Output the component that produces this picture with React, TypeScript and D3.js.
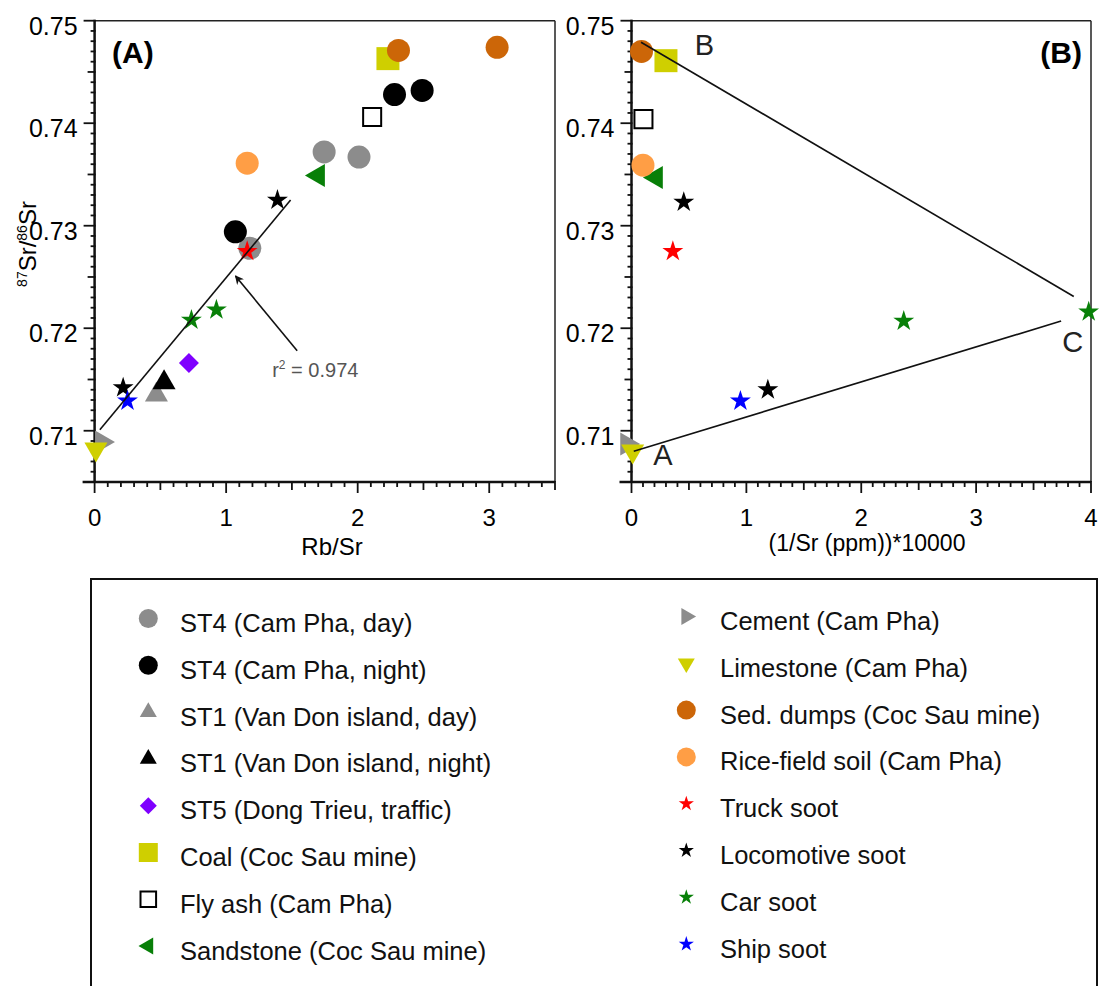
import * as d3 from 'd3';

// ---- data ----
const seriesNames = [
  'ST4 (Cam Pha, day)', 'ST4 (Cam Pha, night)', 'ST1 (Van Don island, day)', 'ST1 (Van Don island, night)',
  'ST5 (Dong Trieu, traffic)', 'Coal (Coc Sau mine)', 'Fly ash (Cam Pha)', 'Sandstone (Coc Sau mine)',
  'Cement (Cam Pha)', 'Limestone (Cam Pha)', 'Sed. dumps (Coc Sau mine)', 'Rice-field soil (Cam Pha)',
  'Truck soot', 'Locomotive soot', 'Car soot', 'Ship soot',
];

// panel A: [Rb/Sr, 87Sr/86Sr]
const st4DayA = [[1.745, 0.7372], [2.01, 0.7367], [1.18, 0.7278]];
const st4NightA = [[2.28, 0.7428], [2.49, 0.7432], [1.07, 0.7294]];
const st1DayA = [[0.47, 0.7135]];
const st1NightA = [[0.528, 0.7147]];
const st5A = [[0.717, 0.7166]];
const coalA = [[2.23, 0.7463]];
const flyAshA = [[2.11, 0.7406]];
const sandstoneA = [[1.70, 0.7349]];
const cementA = [[0.054, 0.7089]];
const limestoneA = [[0.01, 0.7082]];
const sedDumpsA = [[2.31, 0.7471], [3.06, 0.7474]];
const riceA = [[1.16, 0.7361]];
const truckA = [[1.16, 0.7275]];
const locoA = [[1.39, 0.7325], [0.217, 0.7142]];
const carA = [[0.736, 0.7208], [0.926, 0.7218]];
const shipA = [[0.25, 0.7129]];

// panel B: [(1/Sr)*10000, 87Sr/86Sr]
const coalB = [[0.30, 0.7461]];
const flyAshB = [[0.104, 0.7404]];
const sandstoneB = [[0.215, 0.7347]];
const cementB = [[-0.04, 0.7087]];
const limestoneB = [[0.01, 0.7080]];
const sedDumpsB = [[0.087, 0.7470]];
const riceB = [[0.10, 0.7359]];
const truckB = [[0.36, 0.7275]];
const locoB = [[0.455, 0.7323], [1.187, 0.7140]];
const carB = [[2.37, 0.7207], [3.98, 0.7216]];
const shipB = [[0.948, 0.7129]];

const regressionLine = [[0.04, 0.7101], [1.49, 0.7325]];
const arrowLine = [[1.54, 0.7178], [1.071, 0.7251]];
const mixingBC = [[0.083, 0.7479], [3.85, 0.7231]];
const mixingAC = [[0.02, 0.7080], [3.74, 0.7207]];
const endMembers = [['A', 0.274, 0.7067], ['B', 0.635, 0.74666], ['C', 3.84, 0.71773]];

const FONT = 'Liberation Sans, Arial, Helvetica, sans-serif';
const GRAY = '#8c8c8c';

const series = [
  { shape: 'circle', fill: GRAY, a: st4DayA, b: [] },
  { shape: 'circle', fill: '#000', a: st4NightA, b: [] },
  { shape: 'up', fill: GRAY, a: st1DayA, b: [] },
  { shape: 'up', fill: '#000', a: st1NightA, b: [] },
  { shape: 'diamond', fill: '#7f00ff', a: st5A, b: [] },
  { shape: 'square', fill: '#cfcf00', a: coalA, b: coalB },
  { shape: 'open', fill: 'none', a: flyAshA, b: flyAshB },
  { shape: 'left', fill: '#087f08', a: sandstoneA, b: sandstoneB },
  { shape: 'right', fill: GRAY, a: cementA, b: cementB },
  { shape: 'down', fill: '#cfcf00', a: limestoneA, b: limestoneB },
  { shape: 'circle', fill: '#cc6608', a: sedDumpsA, b: sedDumpsB },
  { shape: 'circle', fill: '#ff9e45', a: riceA, b: riceB },
  { shape: 'star', fill: '#ff0000', a: truckA, b: truckB },
  { shape: 'star', fill: '#000', a: locoA, b: locoB },
  { shape: 'star', fill: '#088008', a: carA, b: carB },
  { shape: 'star', fill: '#0000ff', a: shipA, b: shipB },
];

// r ~ half the marker's visual width
function markerPath(shape, r) {
  const sym = d3.symbol();
  if (shape === 'circle') return sym.type(d3.symbolCircle).size(Math.PI * r * r)();
  if (shape === 'square' || shape === 'open') return sym.type(d3.symbolSquare).size(4 * r * r)();
  if (shape === 'diamond') return sym.type(d3.symbolSquare).size(2 * r * r)();
  if (shape === 'star') return sym.type(d3.symbolStar).size((r * r) / 0.8908130915292852)();
  // triangles: side = 2r
  return sym.type(d3.symbolTriangle).size(Math.sqrt(3) * r * r)();
}
const rotation = { diamond: 45, down: 180, left: -90, right: 90 };

function Marker({ s, x, y, r }) {
  const rot = rotation[s.shape] || 0;
  const open = s.shape === 'open';
  return (
    <path
      d={markerPath(s.shape, open ? r * 0.82 : r)}
      transform={`translate(${x},${y}) rotate(${rot})`}
      fill={open ? 'none' : s.fill}
      stroke={open ? '#000' : 'none'}
      strokeWidth={open ? 2 : 0}
    />
  );
}

const sizeMain = { circle: 11.5, square: 11.5, open: 11, diamond: 10, up: 11.5, down: 11.5, left: 11.5, right: 11.5, star: 11 };
const sizeLegend = { circle: 9.5, square: 9.5, open: 9.5, diamond: 8.5, up: 8.5, down: 8.5, left: 8.5, right: 8.5, star: 8 };

const top = 20.7, bottom = 482;
const y = d3.scaleLinear().domain([0.705, 0.75]).range([bottom, top]);
const xA = d3.scaleLinear().domain([0, 3.5]).range([94.6, 555]);
const xB = d3.scaleLinear().domain([0, 4]).range([631.5, 1091]);

function Frame({ x, xMax }) {
  const [x0, x1] = x.range();
  const yTicks = d3.range(705, 751);
  const xTicks = d3.range(0, xMax * 10 + 1);
  return (
    <g>
      <line x1={x0} x2={x1} y1={top} y2={top} stroke="#222" strokeWidth={1.5} />
      <line x1={x1} x2={x1} y1={top} y2={bottom} stroke="#222" strokeWidth={1.5} />
      <line x1={x0} x2={x0} y1={top - 1} y2={bottom} stroke="#111" strokeWidth={2.5} />
      <line x1={x0 - 12} x2={x1} y1={bottom} y2={bottom} stroke="#111" strokeWidth={2.5} />
      {yTicks.map(i => {
        const len = i % 10 === 0 ? 11 : i % 5 === 0 ? 7 : 4;
        return <line key={'y' + i} x1={x0 - len} x2={x0 + 1} y1={y(i / 1000)} y2={y(i / 1000)} stroke="#111" strokeWidth={1.8} />;
      })}
      {yTicks.filter(i => i % 10 === 0).map(i => (
        <text key={'yl' + i} x={x0 - 17} y={y(i / 1000) + 14} textAnchor="end" fontSize={25} fontFamily={FONT}>
          {d3.format('.2f')(i / 1000)}
        </text>
      ))}
      {xTicks.map(i => {
        const len = i % 10 === 0 ? 11 : i % 5 === 0 ? 8 : 5;
        return <line key={'x' + i} x1={x(i / 10)} x2={x(i / 10)} y1={bottom - 1} y2={bottom + len} stroke="#111" strokeWidth={1.8} />;
      })}
      {xTicks.filter(i => i % 10 === 0).map(i => (
        <text key={'xl' + i} x={x(i / 10)} y={526} textAnchor="middle" fontSize={24} fontFamily={FONT}>
          {i / 10}
        </text>
      ))}
    </g>
  );
}

const lineGen = (x) => d3.line().x(d => x(d[0])).y(d => y(d[1]));

export default function App() {
  const lA = lineGen(xA);
  const lB = lineGen(xB);
  return (
    <div style={{ position: 'absolute', left: 0, top: 0 }}>
      <svg width={1099} height={986} style={{ display: 'block', background: '#fff' }} fontFamily={FONT}>
        <defs>
          <marker id="arrow" viewBox="0 0 10 10" refX="9" refY="5" markerWidth="9" markerHeight="9" orient="auto-start-reverse" markerUnits="userSpaceOnUse">
            <path d="M0,0 L10,5 L0,10 L3,5 Z" fill="#111" />
          </marker>
        </defs>

        {/* panel A */}
        <Frame x={xA} xMax={3.5} />
        {series.map((s, i) => s.a.map((p, j) => (
          <Marker key={`a${i}-${j}`} s={s} x={xA(p[0])} y={y(p[1])} r={sizeMain[s.shape]} />
        )))}
        <path d={lA(regressionLine)} stroke="#111" strokeWidth={1.6} fill="none" />
        <path d={lA(arrowLine)} stroke="#111" strokeWidth={1.6} fill="none" markerEnd="url(#arrow)" />
        <text x={xA(1.35)} y={y(0.71527)} fontSize={20} fill="#555">
          r<tspan fontSize={12} dy={-8}>2</tspan><tspan dy={8}> = 0.974</tspan>
        </text>
        <text x={112} y={63} fontSize={30} fontWeight="bold">(A)</text>
        <text x={332} y={555} fontSize={24} textAnchor="middle">Rb/Sr</text>
        <text transform="translate(36,244) rotate(-90)" fontSize={24} textAnchor="middle">
          <tspan fontSize={14} dy={-9}>87</tspan><tspan dy={9}>Sr/</tspan><tspan fontSize={14} dy={-9}>86</tspan><tspan dy={9}>Sr</tspan>
        </text>

        {/* panel B */}
        <Frame x={xB} xMax={4} />
        {series.map((s, i) => s.b.map((p, j) => (
          <Marker key={`b${i}-${j}`} s={s} x={xB(p[0])} y={y(p[1])} r={sizeMain[s.shape]} />
        )))}
        <path d={lB(mixingBC)} stroke="#111" strokeWidth={1.6} fill="none" />
        <path d={lB(mixingAC)} stroke="#111" strokeWidth={1.6} fill="none" />
        {endMembers.map(([t, a, b]) => (
          <text key={t} x={xB(a)} y={y(b)} fontSize={29} textAnchor="middle" fill="#222">{t}</text>
        ))}
        <text x={1082} y={63} fontSize={30} fontWeight="bold" textAnchor="end">(B)</text>
        <text x={867} y={551} fontSize={23} textAnchor="middle">(1/Sr (ppm))*10000</text>

        {/* legend */}
        <rect x={91} y={579} width={1006} height={440} fill="none" stroke="#111" strokeWidth={2} />
        {series.map((s, i) => {
          const col = i < 8 ? 0 : 1;
          const row = i % 8;
          const mx = col === 0 ? 148.3 : 686.3;
          const tx = col === 0 ? 180 : 720;
          const base = (col === 0 ? 632 : 630) + row * 46.8;
          return (
            <g key={'lg' + i}>
              <Marker s={s} x={mx} y={base - 13.5} r={sizeLegend[s.shape]} />
              <text x={tx} y={base} fontSize={25.5} fill="#111">{seriesNames[i]}</text>
            </g>
          );
        })}
      </svg>
    </div>
  );
}
